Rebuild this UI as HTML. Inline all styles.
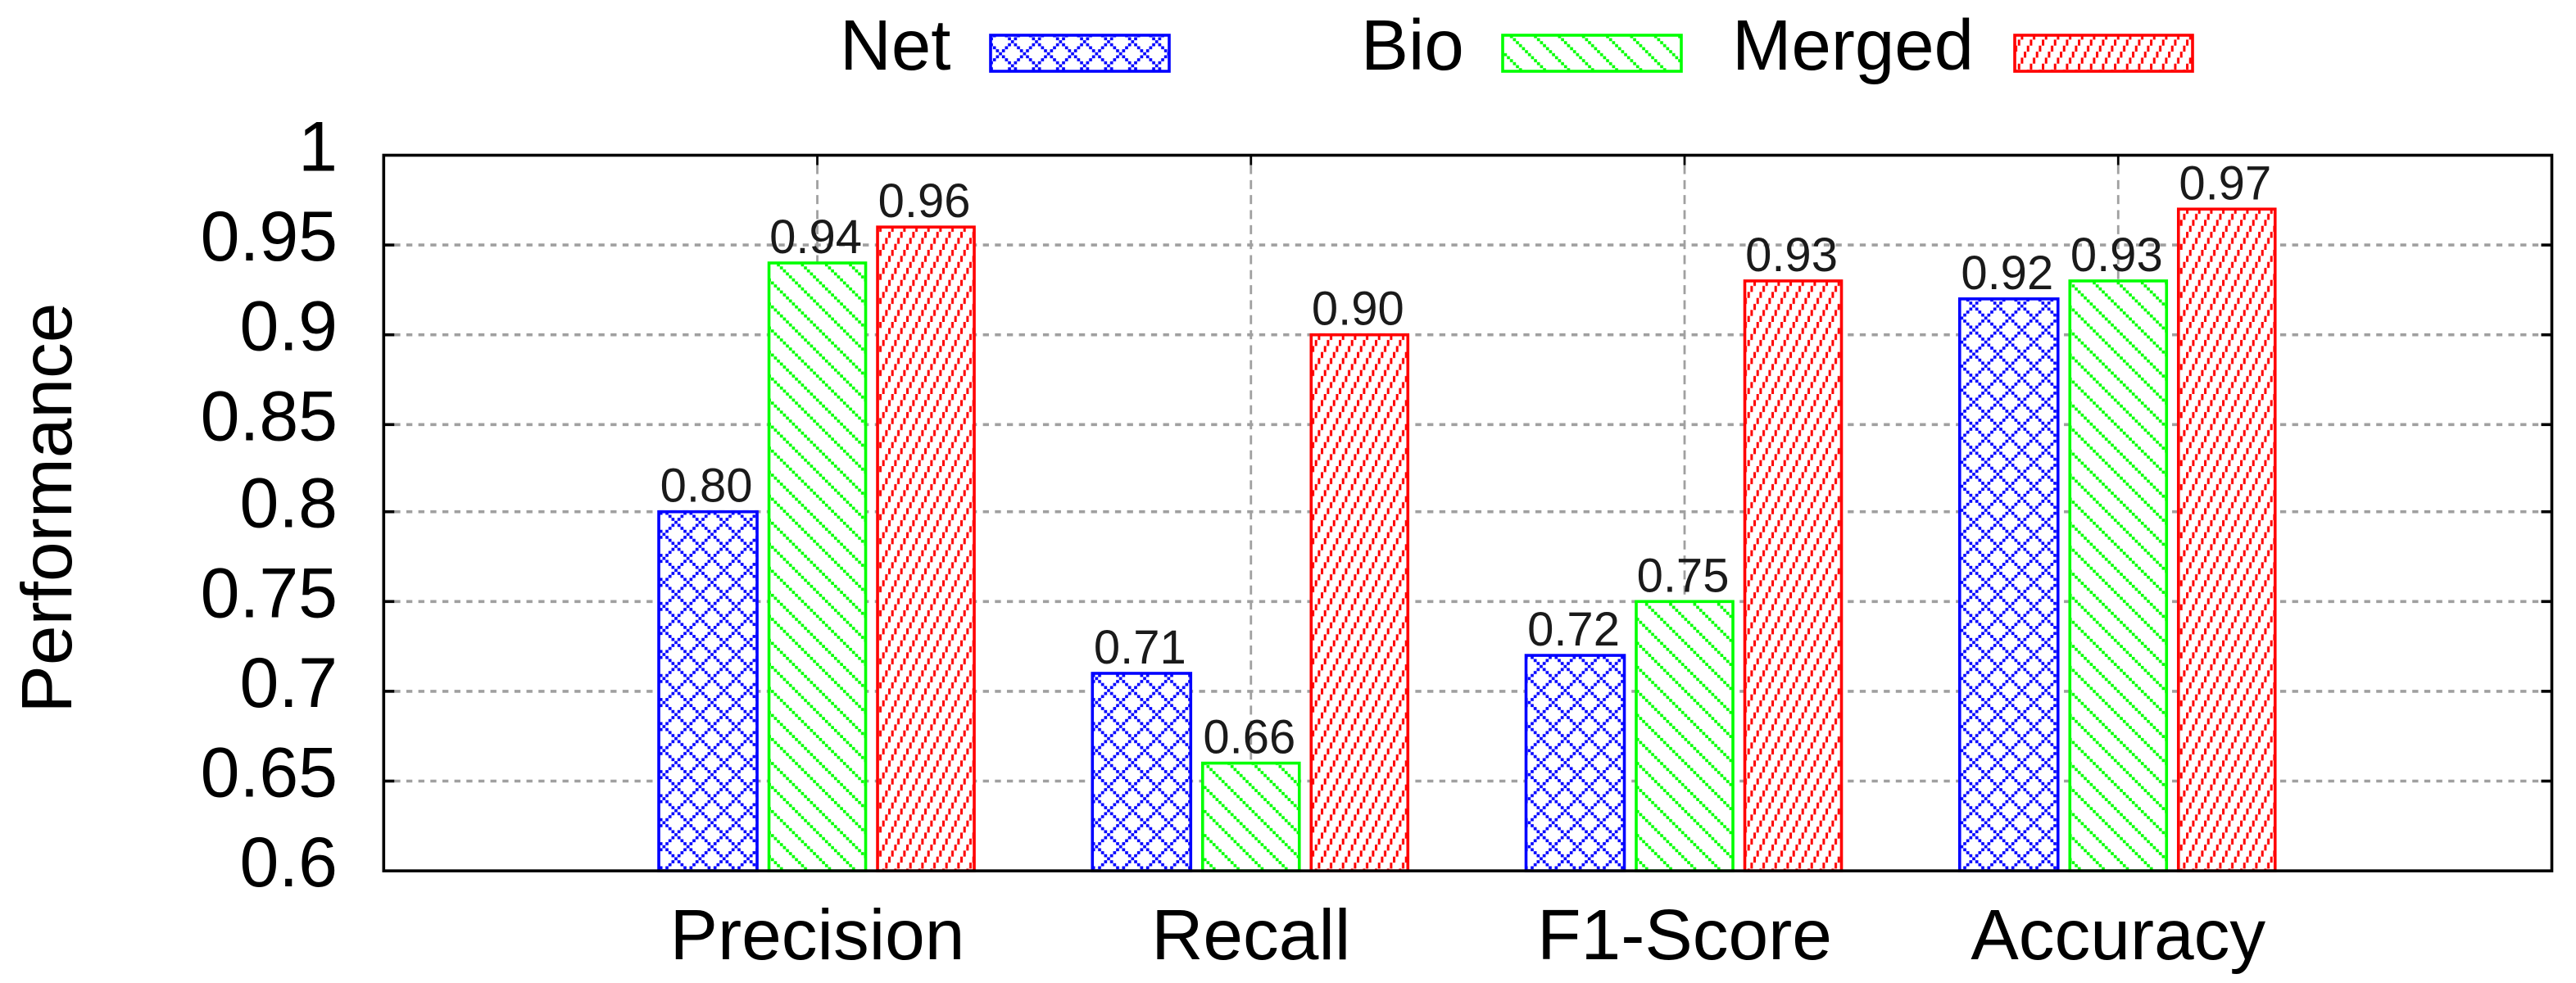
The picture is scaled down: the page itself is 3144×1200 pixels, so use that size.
<!DOCTYPE html>
<html lang="en">
<head>
<meta charset="utf-8">
<title>Performance chart</title>
<style>
  html, body { margin: 0; padding: 0; background: #fff; }
  svg { display: block; font-family: "Liberation Sans", Arial, sans-serif; }
</style>
</head>
<body>
<svg id="chart" xmlns="http://www.w3.org/2000/svg" width="3144" height="1200" viewBox="0 0 3144 1200">
  <defs>
    <pattern id="hatch-net" patternUnits="userSpaceOnUse" x="823.2" y="635.8" width="29.333" height="29.333"></pattern>
    <pattern id="hatch-bio" patternUnits="userSpaceOnUse" x="940.9" y="724.9" width="29.333" height="29.333"></pattern>
    <pattern id="hatch-merged" patternUnits="userSpaceOnUse" x="1076.7" y="275.7" width="14.667" height="29.333"></pattern>
  </defs>
  <rect x="0" y="0" width="3144" height="1200" fill="#fff"/>
  <g id="grid"></g>
  <g id="bars"></g>
  <g id="frame"></g>
  <g id="value-labels"></g>
  <g id="y-tick-labels"></g>
  <g id="x-tick-labels"></g>
  <text transform="translate(87 620) rotate(-90)" text-anchor="middle" font-size="87.5" fill="#000">Performance</text>
  <g>
    <g>
      <text x="1025" y="85" font-size="87" fill="#000">Net</text>
      <rect x="1209" y="43" width="218" height="44" fill="url(#hatch-net)" stroke="#0000ff" stroke-width="3.6"/>
    </g>
    <g>
      <text x="1661" y="85" font-size="87" fill="#000">Bio</text>
      <rect x="1834" y="43" width="218" height="44" fill="url(#hatch-bio)" stroke="#00ff00" stroke-width="3.6"/>
    </g>
    <g>
      <text x="2114" y="85" font-size="87" fill="#000">Merged</text>
      <rect x="2459" y="43" width="217" height="44" fill="url(#hatch-merged)" stroke="#ff0000" stroke-width="3.6"/>
    </g>
  </g>
</svg>
<script>
// Chart data
const categories = ["Precision", "Recall", "F1-Score", "Accuracy"];
const netValues = [0.80, 0.71, 0.72, 0.92];
const bioValues = [0.94, 0.66, 0.75, 0.93];
const mergedValues = [0.96, 0.90, 0.93, 0.97];
const yTickValues = [0.6, 0.65, 0.7, 0.75, 0.8, 0.85, 0.9, 0.95, 1];
const yTickLabels = ["0.6", "0.65", "0.7", "0.75", "0.8", "0.85", "0.9", "0.95", "1"];

const NS = "http://www.w3.org/2000/svg";
const plot = { left: 468.3, right: 3114.5, top: 189.5 };
const xDomain = [-1, 4];
const yMin = 0.6;
const yMax = 1;
const pixelsPerUnit = 109.6 / 0.05;
// The reference image loses about three rows of pixels between 0.85 and 0.8.
const rowSeamValue = 0.825;
const rowSeamShift = 3.2;
const barSlots = [-133.5, 0, 132.5];
const barWidths = [120, 118, 118];

function xScale(v) {
  return plot.left + (v - xDomain[0]) / (xDomain[1] - xDomain[0]) * (plot.right - plot.left);
}
function yScale(v) {
  const y = plot.top + (yMax - v) * pixelsPerUnit;
  return v < rowSeamValue ? y - rowSeamShift : y;
}
const plotBottom = yScale(yMin);
function make(tag, parent, attrs, text) {
  const el = document.createElementNS(NS, tag);
  for (const k in attrs) el.setAttribute(k, attrs[k]);
  if (text !== undefined) el.textContent = text;
  parent.appendChild(el);
  return el;
}

// Hatch tiles: 8x8 bitmap-style patterns scaled up
const block = 29.333 / 8;
function paintTile(id, cells, color, cellWidth) {
  const p = document.getElementById(id);
  const w = parseFloat(p.getAttribute("width"));
  const h = parseFloat(p.getAttribute("height"));
  make("rect", p, { x: 0, y: 0, width: w, height: h, fill: "#fff" });
  cells.forEach(function (c) {
    make("rect", p, { x: c[0] * block, y: c[1] * block, width: cellWidth, height: block * (c[2] || 1), fill: color });
  });
}
const netCells = [];
const bioCells = [];
for (let i = 0; i < 8; i++) {
  netCells.push([i, i]);
  if (i !== 0 && i !== 4) netCells.push([i, 8 - i]);
  bioCells.push([i, i]);
}
paintTile("hatch-net", netCells, "#0000ff", block);
paintTile("hatch-bio", bioCells, "#00ff00", block);
paintTile("hatch-merged", [[0, 6, 2], [1, 4, 2], [2, 2, 2], [3, 0, 2]], "#ff0000", 3);

const gridG = document.getElementById("grid");
const barsG = document.getElementById("bars");
const frameG = document.getElementById("frame");
const valuesG = document.getElementById("value-labels");
const yLabelsG = document.getElementById("y-tick-labels");
const xLabelsG = document.getElementById("x-tick-labels");

// Horizontal grid, y ticks, y labels
yTickValues.forEach(function (v, i) {
  const y = yScale(v);
  if (v > yMin && v < yMax) {
    const line = make("line", gridG, { x1: plot.left + 13, x2: plot.right - 13, y1: y, y2: y, stroke: "#a0a0a0", "stroke-width": 3.6, "stroke-dasharray": "7.33 7.33" });
    
    
    const tickL = make("line", frameG, { x1: plot.left, x2: plot.left + 13, y1: y, y2: y, stroke: "#000", "stroke-width": 3.6 });
    
    
    const tickR = make("line", frameG, { x1: plot.right - 13, x2: plot.right, y1: y, y2: y, stroke: "#000", "stroke-width": 3.6 });
    
    
  }
  const label = make("text", yLabelsG, { x: 412, y: y + 19, "text-anchor": "end", "font-size": 86, fill: "#000" }, yTickLabels[i]);
  
  
});

// Vertical grid, x ticks, x labels
categories.forEach(function (name, i) {
  const x = xScale(i);
  const line = make("line", gridG, { x1: x, x2: x, y1: plot.top + 12, y2: plotBottom, stroke: "#a0a0a0", "stroke-width": 2.8, "stroke-dasharray": "11 7.33" });
  
  
  const tick = make("line", frameG, { x1: x, x2: x, y1: plot.top, y2: plot.top + 12, stroke: "#000", "stroke-width": 2.8 });
  
  
  const label = make("text", xLabelsG, { x: x, y: 1171, "text-anchor": "middle", "font-size": 87.5, fill: "#000" }, name);
  
  
});

// Bars and printed values
const seriesList = [
  { key: "net", values: netValues, color: "#0000ff", fill: "url(#hatch-net)" },
  { key: "bio", values: bioValues, color: "#00ff00", fill: "url(#hatch-bio)" },
  { key: "merged", values: mergedValues, color: "#ff0000", fill: "url(#hatch-merged)" }
];
seriesList.forEach(function (s, si) {
  s.values.forEach(function (v, i) {
    const cx = xScale(i) + barSlots[si];
    const top = yScale(v);
    const w = barWidths[si];
    const bar = make("rect", barsG, { x: cx - w / 2, y: top, width: w, height: plotBottom - top, fill: s.fill, stroke: s.color, "stroke-width": 3.6 });
    
    
    const label = make("text", valuesG, { x: cx - 2, y: top - 12, "text-anchor": "middle", "font-size": 58, fill: "#1a1a1a" }, v.toFixed(2));
    
    
  });
});

// Plot frame
const frameRect = make("rect", frameG, { x: plot.left, y: plot.top, width: plot.right - plot.left, height: plotBottom - plot.top, fill: "none", stroke: "#000", "stroke-width": 3.6 });


</script>
</body>
</html>
